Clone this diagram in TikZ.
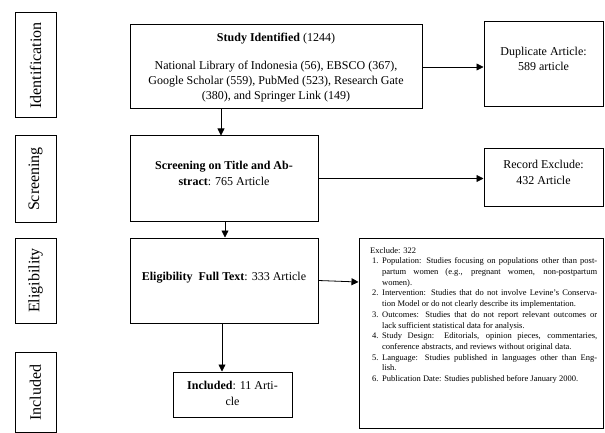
\documentclass[tikz,border=0pt]{standalone}
\usepackage{fontspec}
\setmainfont{Liberation Serif}
\usetikzlibrary{arrows.meta}
\newcommand\exJ[2]{\hbox{\hbox to 12pt{\hspace{2pt}#1\hss}\hbox to 215pt{#2}}}
\newcommand\exR[2]{\hbox{\hbox to 12pt{\hspace{2pt}#1\hss}\hbox to 215pt{#2\hfil}}}
\begin{document}
\begin{tikzpicture}[x=1pt,y=-1pt,
  box/.style={draw,line width=1pt,rectangle,inner sep=0pt},
  side/.style={box,minimum width=41pt},
  sidetext/.style={rotate=90,font=\fontsize{16}{18}\selectfont,inner sep=0pt},
  txt/.style={inner sep=0pt,font=\fontsize{12}{15.5}\selectfont,align=center},
  arr/.style={line width=0.8pt,-{Triangle[length=7pt,width=7pt]}}]
\useasboundingbox (0,0) rectangle (605,433);
% side labels
\node[side,minimum height=105pt] (lid) at (35.5,65.5) {};
\node[sidetext] (tid) at (lid) {Identification};
\node[side,minimum height=86pt] (lscr) at (35.5,179) {};
\node[sidetext] (tscr) at (lscr) {Screening};
\node[side,minimum height=85pt] (lel) at (35.5,280.5) {};
\node[sidetext] (tel) at (lel) {Eligibility};
\node[side,minimum height=80pt] (lin) at (35.5,392.5) {};
\node[sidetext] (tin) at (lin) {Included};
% main boxes
\node[box,minimum width=292pt,minimum height=84pt] (study) at (276,67) {};
\node[txt,anchor=base] (studyt) at (276,42) {\textbf{Study Identified} (1244)};
\node[txt,anchor=base,font=\fontsize{12}{15}\selectfont] (studyl) at (276,99.5) {National Library of Indonesia (56), EBSCO (367),\\Google Scholar (559), PubMed (523), Research Gate\\(380), and Springer Link (149)};
\node[box,minimum width=188pt,minimum height=85pt] (screen) at (224,178.5) {};
\node[txt,anchor=base] (screent) at (224,185) {\textbf{Screening on Title and Ab-}\\\textbf{stract}: 765 Article};
\node[box,minimum width=188pt,minimum height=85pt] (elig) at (224,280.5) {};
\node[txt,anchor=base] (eligt) at (224,280) {\textbf{Eligibility\ \ Full Text}: 333 Article};
\node[box,minimum width=119pt,minimum height=45pt] (incl) at (232.5,394.5) {};
\node[txt,anchor=base] (inclt) at (232.5,405) {\textbf{Included}: 11 Arti-\\cle};
\node[box,minimum width=119pt,minimum height=85pt] (dup) at (543.5,64.5) {};
\node[txt,anchor=base] (dupt) at (543.5,71) {Duplicate Article:\\589 article};
\node[box,minimum width=119pt,minimum height=57pt] (rec) at (543.5,177.5) {};
\node[txt,anchor=base] (rect) at (543.5,184) {Record Exclude:\\432 Article};
\node[box,minimum width=244pt,minimum height=190pt] (exc) at (481,333) {};
\node[anchor=north west,inner sep=0pt,font=\fontsize{8.5}{10.7}\selectfont] (exct) at (370,247) {\vbox{%
\baselineskip=10.7pt\lineskiplimit=-20pt
\hbox{Exclude: 322}
\exJ{1.}{Population: Studies focusing on populations other than post-}
\exJ{}{partum women (e.g., pregnant women, non-postpartum}
\exR{}{women).}
\exJ{2.}{Intervention: Studies that do not involve Levine's Conserva-}
\exR{}{tion Model or do not clearly describe its implementation.}
\exJ{3.}{Outcomes: Studies that do not report relevant outcomes or}
\exR{}{lack sufficient statistical data for analysis.}
\exJ{4.}{Study Design: Editorials, opinion pieces, commentaries,}
\exR{}{conference abstracts, and reviews without original data.}
\exJ{5.}{Language: Studies published in languages other than Eng-}
\exR{}{lish.}
\exR{6.}{Publication Date: Studies published before January 2000.}}};
% arrows
\draw[arr] (study.east) -- (study.east -| dup.west);
\draw[arr] ([xshift=-55pt]study.south) -- ([xshift=-55pt]study.south |- screen.north);
\draw[arr] (screen.east) -- (screen.east -| rec.west);
\draw[arr] ([xshift=1pt]screen.south) -- ([xshift=1pt]elig.north);
\draw[arr] (elig.east) -- ([yshift=-1.5pt]elig.east -| exc.west);
\draw[arr] ([xshift=-2pt]elig.south) -- ([xshift=-2pt]elig.south |- incl.north);
\end{tikzpicture}
\end{document}
